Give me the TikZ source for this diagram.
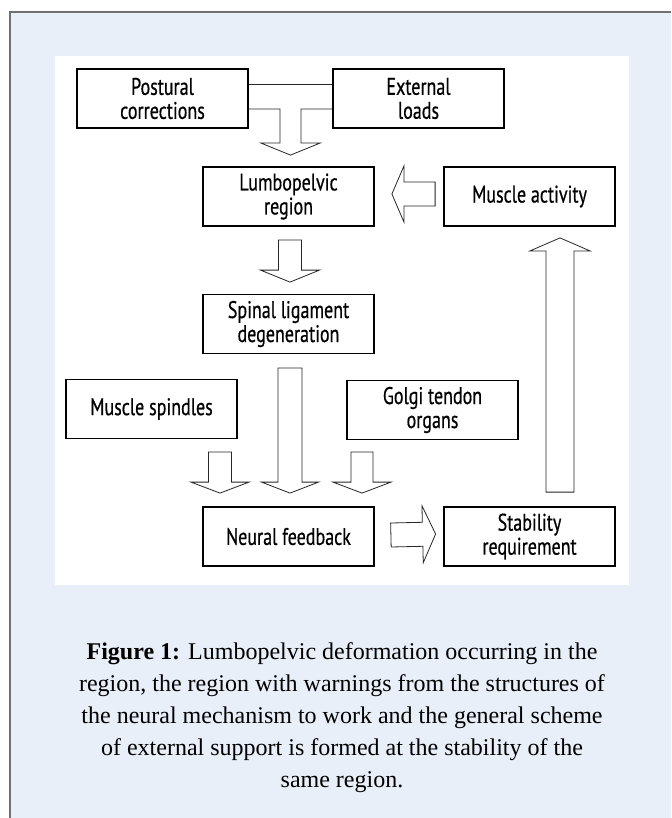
\documentclass[tikz,border=0pt]{standalone}
\usepackage{fontspec}
\setmainfont{Liberation Serif}
\newfontfamily\boxfont[FakeStretch=0.75, FakeBold=0.5]{PT Sans}
\usetikzlibrary{calc}
\definecolor{panelblue}{RGB}{232,239,248}
\definecolor{framegray}{RGB}{112,112,112}
\tikzstyle{box} = [rectangle, minimum width=171pt, minimum height=59pt, inner sep=0pt, text centered, align=center, draw=black, line width=1.8pt, fill=white, font=\boxfont\fontsize{24}{24}\selectfont]
\tikzstyle{blockline} = [draw=black!85, line width=0.8pt, fill=white, line join=miter]
\tikzstyle{caption} = [align=center, font=\fontsize{24}{32}\selectfont]
% block arrow: from, tip, shaft half width, head half width, head length
\newcommand{\blockarrow}[5]{%
    \coordinate (ba-s) at #1;
    \coordinate (ba-t) at #2;
    \coordinate (ba-b) at ($(ba-t)!#5!(ba-s)$);
    \draw [blockline] ($(ba-s)!#3!90:(ba-t)$) -- ($(ba-b)!#3!90:(ba-t)$) -- ($(ba-b)!#4!90:(ba-t)$) -- (ba-t)
        -- ($(ba-b)!#4!-90:(ba-t)$) -- ($(ba-b)!#3!-90:(ba-t)$) -- ($(ba-s)!#3!-90:(ba-t)$) -- cycle;
}

\begin{document}
\begin{tikzpicture}[x=1pt, y=-1pt, node distance=241pt]
    % Frame and panel
    \useasboundingbox (0,0) rectangle (671,818);
    \fill [white] (0,0) rectangle (671,818);
    \fill [panelblue] (10,12) rectangle (671,818);
    \draw [framegray, line width=2pt] (10,818) -- (10,12) -- (671,12);
    \fill [white] (55,56) rectangle (629,585);
    % Nodes
    \node (post) [box] at (162.5,98.5) {Postural\\corrections};
    \node (ext) [box, right of=post, xshift=15pt] {External\\loads};
    \node (lumbo) [box] at (288.5,196.5) {Lumbopelvic\\region};
    \node (musc) [box, right of=lumbo] {Muscle activity};
    \node (spinal) [box] at (288.5,324) {Spinal ligament\\degeneration};
    \node (spind) [box] at (151.5,409) {Muscle spindles};
    \node (golgi) [box] at (432.5,410) {Golgi tendon\\organs};
    \node (neural) [box] at (288.5,536.5) {Neural feedback};
    \node (stab) [box, right of=neural] {Stability\\requirement};
    \node (caption) [caption] at (342,718) {\textbf{Figure 1:} Lumbopelvic deformation occurring in the\\
        region, the region with warnings from the structures of\\
        the neural mechanism to work and the general scheme\\
        of external support is formed at the stability of the\\
        same region.};
    % Arrows
    \coordinate (tip1) at ([xshift=2pt, yshift=11pt]lumbo.north);
    \draw [blockline] ([yshift=14.5pt]post.east) -- ([yshift=14.5pt]ext.west);
    \draw [blockline] ([yshift=-10.5pt]post.east) -| ($(tip1)+(-10.5,-12)$) -- ($(tip1)+(-29.5,-12)$) -- (tip1)
        -- ($(tip1)+(29.5,-12)$) -- ($(tip1)+(10.5,-12)$) |- ([yshift=-10.5pt]ext.west);
    \blockarrow{([xshift=-8pt, yshift=2.5pt]musc.west)}{([xshift=17pt, yshift=2.5pt]lumbo.east)}{12pt}{28pt}{12pt}
    \blockarrow{([xshift=1.5pt, yshift=-13pt]lumbo.south)}{([xshift=1.5pt, yshift=11.5pt]spinal.north)}{11.5pt}{29.5pt}{12pt}
    \blockarrow{([xshift=1.5pt, yshift=-13.5pt]spinal.south)}{([xshift=1.5pt, yshift=13pt]neural.north)}{12pt}{28.5pt}{11pt}
    \blockarrow{([xshift=68.5pt, yshift=-12.5pt]spind.south)}{([xshift=-68.5pt, yshift=13pt]neural.north)}{11.5pt}{29pt}{11pt}
    \blockarrow{([xshift=-70.5pt, yshift=-11.5pt]golgi.south)}{([xshift=73.5pt, yshift=13pt]neural.north)}{11pt}{29pt}{11pt}
    \blockarrow{([xshift=16pt, yshift=1.5pt]neural.east)}{([xshift=-7.5pt, yshift=2.5pt]stab.west)}{12pt}{28.5pt}{13pt}
    \blockarrow{([xshift=30.5pt, yshift=14pt]stab.north)}{([xshift=30.5pt, yshift=-11pt]musc.south)}{14pt}{30pt}{13pt}
\end{tikzpicture}
\end{document}
